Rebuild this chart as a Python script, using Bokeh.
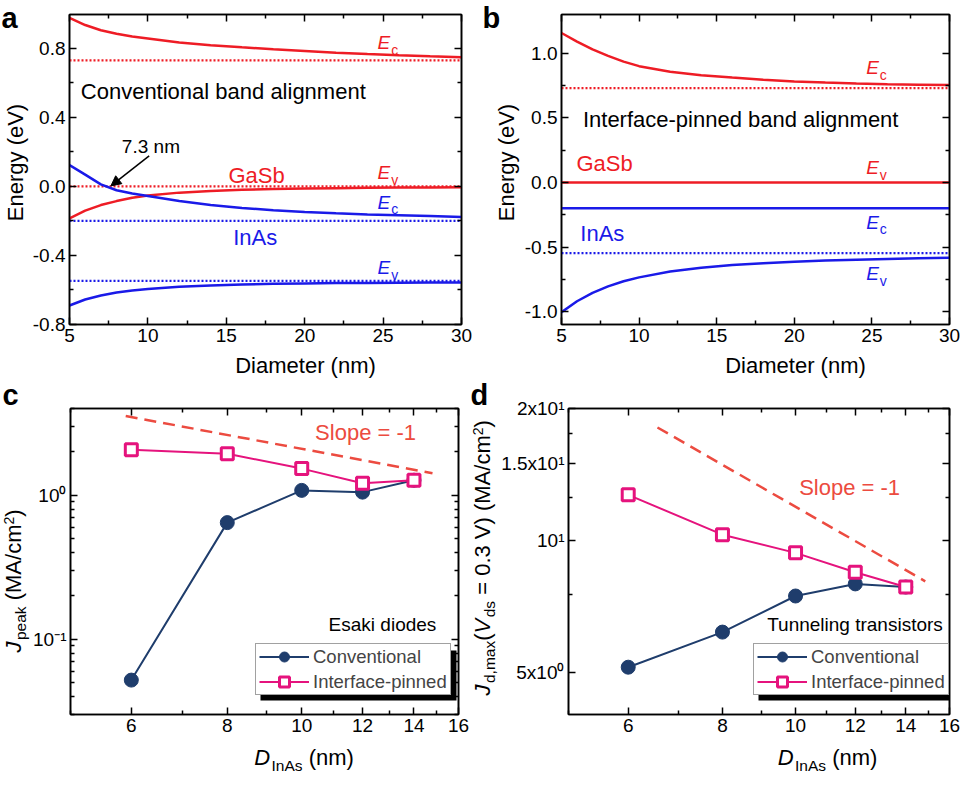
import math
from bokeh.plotting import figure
from bokeh.layouts import column, row
from bokeh.models import (FixedTicker, LinearAxis, LogAxis, Label, Legend, LegendItem,
                          BoxAnnotation, Arrow, NormalHead, PrintfTickFormatter,
                          CustomJSTickFormatter, Range1d)
from bokeh.embed import file_html
from bokeh.resources import INLINE

FONT = "Liberation Sans"
RED = "#ee1c25"
BLUE = "#1a1ae8"
NAVY = "#1f3d6c"
PINK = "#e5137d"
SLOPE = "#ec4b40"

# ---------------- data: panels a/b (band edges vs diameter) ----------------
diam = [5, 6, 7, 8, 9, 10, 12, 14, 16, 18, 20, 22, 24, 26, 28, 30]
# panel a: conventional band alignment
gasb_ec_a = [0.977, 0.935, 0.905, 0.885, 0.868, 0.857, 0.834, 0.818, 0.806, 0.795, 0.785, 0.775, 0.767, 0.760, 0.754, 0.749]
gasb_ev_a = [-0.185, -0.140, -0.108, -0.085, -0.066, -0.053, -0.036, -0.027, -0.020, -0.015, -0.012, -0.010, -0.008, -0.007, -0.006, -0.005]
inas_ec_a = [0.124, 0.068, 0.012, -0.022, -0.041, -0.055, -0.085, -0.108, -0.125, -0.138, -0.148, -0.156, -0.162, -0.167, -0.172, -0.177]
inas_ev_a = [-0.690, -0.655, -0.632, -0.615, -0.603, -0.594, -0.582, -0.574, -0.568, -0.564, -0.562, -0.560, -0.559, -0.558, -0.557, -0.557]
# panel b: interface-pinned band alignment
gasb_ec_b = [1.157, 1.090, 1.030, 0.980, 0.935, 0.900, 0.857, 0.830, 0.812, 0.795, 0.782, 0.773, 0.765, 0.760, 0.757, 0.754]
inas_ev_b = [-1.005, -0.920, -0.855, -0.805, -0.765, -0.735, -0.690, -0.660, -0.640, -0.625, -0.614, -0.605, -0.598, -0.592, -0.588, -0.584]
span = [5, 30]
gasb_ev_b = [0.0, 0.0]
inas_ec_b = [-0.2, -0.2]
# bulk reference levels (dotted)
bulk_gasb_ec = 0.73
bulk_gasb_ev = 0.0
bulk_inas_ec = -0.2
bulk_inas_ev = -0.547

# ---------------- data: panels c/d ----------------
d_inas = [6, 8, 10, 12, 14]
jpeak_conv = [0.052, 0.645, 1.08, 1.05, 1.27]
jpeak_pinned = [2.07, 1.94, 1.53, 1.21, 1.27]
jd_conv = [5.13, 6.17, 7.46, 7.95, 7.82]
jd_pinned = [12.7, 10.3, 9.36, 8.45, 7.82]
slope_c_d = [5.9, 14.8]
slope_c_j = [3.55, 1.42]
slope_d_d = [6.56, 14.86]
slope_d_j = [18.1, 8.06]

# ---------------- helpers ----------------
AW = {'a': .556, 'b': .556, 'c': .5, 'd': .556, 'e': .556, 'f': .278, 'g': .556, 'h': .556,
      'i': .222, 'k': .5, 'l': .222, 'm': .833, 'n': .556, 'o': .556, 'p': .556, 'r': .333,
      's': .5, 't': .278, 'u': .556, 'v': .5, 'x': .5, 'y': .5, 'A': .667, 'D': .722,
      'E': .667, 'I': .278, 'J': .5, 'M': .833, 'V': .667, ' ': .278, '(': .333, ')': .333,
      '/': .278, ',': .278, '.': .278, '=': .584, '-': .333}
TICK_FS = "19px"


def tw(text, size):
    return sum(AW.get(ch, .556) for ch in text) * size


def lab(p, x, y, text, size, color="black", style="normal", units="data",
        align="left", baseline="middle", angle=0, xo=0, yo=0):
    p.add_layout(Label(x=x, y=y, x_units=units, y_units=units, text=text,
                       text_font=FONT, text_font_size=f"{size}px", text_color=color,
                       text_font_style=style, text_align=align, text_baseline=baseline,
                       angle=angle, x_offset=xo, y_offset=yo))


def rich(p, x, y, parts, units="screen", color="black", angle=0, center=False):
    """parts: (text, size, style, shift); shift = offset of the piece's middle line,
    >0 = subscript side, <0 = superscript side. Leading spaces only advance."""
    def adv(t, s, st):
        return tw(t, s) + (1.5 if st == "italic" else 0)
    total = sum(adv(t, s, st) for t, s, st, _ in parts)
    cum = -total / 2 if center else 0.0
    for text, size, style, shift in parts:
        stripped = text.lstrip(" ")
        cum += tw(text[:len(text) - len(stripped)], size)
        if angle == 0:
            lab(p, x, y, stripped, size, color, style, units, xo=cum, yo=-shift)
        else:
            lab(p, x, y, stripped, size, color, style, units, angle=math.pi / 2, xo=shift, yo=cum)
        cum += adv(stripped, size, style)


def e_label(p, x, y, sub, color):
    lab(p, x, y, "E", 19, color, "italic")
    lab(p, x, y, sub, 14, color, xo=tw("E", 19) + 1, yo=-7)


def style_axis(ax, ticks, minor, fmt=None, overrides=None, labels=True):
    ax.ticker = FixedTicker(ticks=ticks, minor_ticks=minor)
    ax.major_tick_in = 7
    ax.major_tick_out = 0
    ax.minor_tick_in = 4
    ax.minor_tick_out = 0
    ax.axis_line_width = 1.6
    ax.major_tick_line_width = 1.5
    ax.minor_tick_line_width = 1.5
    ax.axis_line_color = "black"
    ax.major_tick_line_color = "black"
    ax.minor_tick_line_color = "black"
    ax.major_label_text_font = FONT
    ax.major_label_text_font_size = TICK_FS
    ax.major_label_text_color = "black"
    ax.major_label_standoff = 4
    ax.axis_label = None
    if not labels:
        ax.formatter = CustomJSTickFormatter(code="return ''")
        ax.major_label_text_font_size = "0px"
        ax.major_label_standoff = 0
    elif fmt is not None:
        ax.formatter = fmt
    if overrides:
        ax.major_label_overrides = overrides


def make_fig(w, h, bl, br, bt, bb, xr, yr, xtype="linear", ytype="linear"):
    p = figure(width=w, height=h, x_range=xr, y_range=yr, x_axis_type=xtype,
               y_axis_type=ytype, output_backend="svg", toolbar_location=None,
               min_border_left=bl, min_border_right=br, min_border_top=bt,
               min_border_bottom=bb)
    p.grid.visible = False
    p.outline_line_color = "black"
    p.outline_line_width = 1.5
    p.background_fill_color = "white"
    p.border_fill_color = "white"
    return p


def strip(w, h):
    """blank figure that only carries text (axis titles / panel letters)"""
    s = figure(width=w, height=h, x_range=Range1d(0, 1), y_range=Range1d(0, 1),
               output_backend="svg", toolbar_location=None,
               x_axis_location=None, y_axis_location=None,
               min_border_left=0, min_border_right=0, min_border_top=0, min_border_bottom=0)
    s.grid.visible = False
    s.outline_line_color = None
    s.background_fill_color = "white"
    s.border_fill_color = "white"
    return s


def mirror(p, xticks, xminor, yticks, yminor, log_x=False, log_y=False):
    top = LogAxis() if log_x else LinearAxis()
    right = LogAxis() if log_y else LinearAxis()
    style_axis(top, xticks, xminor, labels=False)
    style_axis(right, yticks, yminor, labels=False)
    p.add_layout(top, "above")
    p.add_layout(right, "right")


# ---------------- panel a ----------------
x_ticks = [5, 10, 15, 20, 25, 30]
x_minor = [7.5, 12.5, 17.5, 22.5, 27.5]
ya_ticks = [-0.8, -0.4, 0.0, 0.4, 0.8]
ya_minor = [-0.6, -0.2, 0.2, 0.6]

pa = make_fig(451, 352, 40, 19, 14, 28, Range1d(5, 30), Range1d(-0.8, 0.996))
style_axis(pa.xaxis[0], x_ticks, x_minor)
style_axis(pa.yaxis[0], ya_ticks, ya_minor, fmt=PrintfTickFormatter(format="%.1f"))
mirror(pa, x_ticks, x_minor, ya_ticks, ya_minor)

for lvl, col in [(bulk_gasb_ec, RED), (bulk_gasb_ev, RED), (bulk_inas_ec, BLUE), (bulk_inas_ev, BLUE)]:
    pa.line(span, [lvl, lvl], line_color=col, line_width=2.2, line_dash="2 2")
pa.line(diam, gasb_ec_a, line_color=RED, line_width=2.5)
pa.line(diam, gasb_ev_a, line_color=RED, line_width=2.5)
pa.line(diam, inas_ec_a, line_color=BLUE, line_width=2.5)
pa.line(diam, inas_ev_a, line_color=BLUE, line_width=2.5)

lab(pa, 5.72, 0.552, "Conventional band alignment", 22)
lab(pa, 8.34, 0.229, "7.3 nm", 19)
pa.add_layout(Arrow(end=NormalHead(size=10, fill_color="black", line_color="black"),
                    x_start=10.08, y_start=0.177, x_end=7.64, y_end=0.003,
                    line_width=1.5, line_color="black"))
lab(pa, 15.14, 0.065, "GaSb", 22, RED)
lab(pa, 15.44, -0.295, "InAs", 22, BLUE)
e_label(pa, 24.64, 0.832, "c", RED)
e_label(pa, 24.64, 0.078, "v", RED)
e_label(pa, 24.64, -0.093, "c", BLUE)
e_label(pa, 24.64, -0.470, "v", BLUE)

sa = strip(29, 378)
lab(sa, 1, 361, "a", 29, style="bold", units="screen")
lab(sa, 15, 216, "Energy (eV)", 22, units="screen", align="center", angle=math.pi / 2)
xa = strip(451, 26)
lab(xa, 40 + 196, 13, "Diameter (nm)", 22, units="screen", align="center")

# ---------------- panel b ----------------
pb = make_fig(439, 352, 40, 11, 14, 28, Range1d(5, 30), Range1d(-1.1, 1.3))
yb_ticks = [-1.0, -0.5, 0.0, 0.5, 1.0]
yb_minor = [-0.75, -0.25, 0.25, 0.75]
style_axis(pb.xaxis[0], x_ticks, x_minor)
style_axis(pb.yaxis[0], yb_ticks, yb_minor, fmt=PrintfTickFormatter(format="%.1f"))
mirror(pb, x_ticks, x_minor, yb_ticks, yb_minor)

pb.line(span, [bulk_gasb_ec, bulk_gasb_ec], line_color=RED, line_width=2.2, line_dash="2 2")
pb.line(span, [bulk_inas_ev, bulk_inas_ev], line_color=BLUE, line_width=2.2, line_dash="2 2")
pb.line(diam, gasb_ec_b, line_color=RED, line_width=2.5)
pb.line(span, gasb_ev_b, line_color=RED, line_width=2.5)
pb.line(span, inas_ec_b, line_color=BLUE, line_width=2.5)
pb.line(diam, inas_ev_b, line_color=BLUE, line_width=2.5)

lab(pb, 6.38, 0.487, "Interface-pinned band alignment", 22)
lab(pb, 5.96, 0.147, "GaSb", 22, RED)
lab(pb, 6.21, -0.393, "InAs", 22, BLUE)
e_label(pb, 24.63, 0.888, "c", RED)
e_label(pb, 24.63, 0.114, "v", RED)
e_label(pb, 24.63, -0.310, "c", BLUE)
e_label(pb, 24.63, -0.706, "v", BLUE)

sb = strip(41, 378)
lab(sb, 2, 361, "b", 29, style="bold", units="screen")
lab(sb, 26, 216, "Energy (eV)", 22, units="screen", align="center", angle=math.pi / 2)
xb = strip(439, 26)
lab(xb, 40 + 194, 13, "Diameter (nm)", 22, units="screen", align="center")

# ---------------- panels c / d ----------------
xd_ticks = [6, 8, 10, 12, 14, 16]
xd_minor = [5, 7, 9, 11, 13, 15]
xd_over = {t: str(t) for t in xd_ticks}


def legend_with_shadow(p, items):
    p.add_layout(BoxAnnotation(left=190, right=386, bottom=14, top=64,
                               left_units="screen", right_units="screen",
                               top_units="screen", bottom_units="screen",
                               fill_color="black", fill_alpha=1, line_color=None))
    lg = Legend(items=items, location=(185, 19), label_text_font=FONT,
                label_text_font_size="18.5px", glyph_width=50, glyph_height=25,
                label_height=25, spacing=0, padding=(3, 0), label_standoff=4, margin=0,
                border_line_color="#444444", border_line_width=1,
                background_fill_color="white", background_fill_alpha=1)
    p.add_layout(lg, "center")


def series(p, yconv, ypin):
    l1 = p.line(d_inas, yconv, line_color=NAVY, line_width=2)
    s1 = p.scatter(d_inas, yconv, marker="circle", size=14, fill_color=NAVY, line_color=NAVY)
    l2 = p.line(d_inas, ypin, line_color=PINK, line_width=2)
    s2 = p.scatter(d_inas, ypin, marker="square", size=12, fill_color="white",
                   line_color=PINK, line_width=3)
    return [LegendItem(label="Conventional", renderers=[l1, s1]),
            LegendItem(label="Interface-pinned", renderers=[l2, s2])]


# panel c
pc = make_fig(439, 366, 39, 11, 30, 30, Range1d(5, 16), Range1d(0.03, 4),
              xtype="log", ytype="log")
yc_ticks = [0.1, 1.0]
yc_minor = [0.03, 0.04, 0.05, 0.06, 0.07, 0.08, 0.09, 0.2, 0.3, 0.4, 0.5, 0.6, 0.7, 0.8, 0.9, 2, 3, 4]
style_axis(pc.xaxis[0], xd_ticks, xd_minor, overrides=xd_over)
style_axis(pc.yaxis[0], yc_ticks, yc_minor, overrides={0.1: "10\u207b\u00b9", 1.0: "10\u2070"})
mirror(pc, xd_ticks, xd_minor, yc_ticks, yc_minor, log_x=True, log_y=True)
pc.line(slope_c_d, slope_c_j, line_color=SLOPE, line_width=2.5, line_dash="12 7")
items_c = series(pc, jpeak_conv, jpeak_pinned)
legend_with_shadow(pc, items_c)
lab(pc, 10.41, 2.71, "Slope = -1", 22, SLOPE)
lab(pc, 10.84, 0.126, "Esaki diodes", 19)

sc = strip(30, 396)
lab(sc, 2, 380, "c", 29, style="bold", units="screen")
rich(sc, 13, 122, [("J", 22, "italic", 0), ("peak", 15.5, "normal", 7),
                   (" (MA/cm", 22, "normal", 0), ("2", 14, "normal", -5), (")", 22, "normal", 0)],
     angle=1)
xc = strip(439, 30)
rich(xc, 39 + 194.5, 17, [("D", 22, "italic", 0), ("InAs", 15.5, "normal", 8),
                          (" (nm)", 22, "normal", 0)], center=True)

# panel d
pd_ = make_fig(462, 366, 67, 11, 30, 30, Range1d(5, 16), Range1d(4, 20),
               xtype="log", ytype="log")
yd_ticks = [5, 10, 15, 20]
yd_minor = [7.5, 12.5, 17.5]
style_axis(pd_.xaxis[0], xd_ticks, xd_minor, overrides=xd_over)
style_axis(pd_.yaxis[0], yd_ticks, yd_minor,
           overrides={5: "5x10\u2070", 10: "10\u00b9", 15: "1.5x10\u00b9", 20: "2x10\u00b9"})
mirror(pd_, xd_ticks, xd_minor, yd_ticks, yd_minor, log_x=True, log_y=True)
pd_.line(slope_d_d, slope_d_j, line_color=SLOPE, line_width=2.5, line_dash="12 7")
items_d = series(pd_, jd_conv, jd_pinned)
legend_with_shadow(pd_, items_d)
lab(pd_, 10.11, 13.2, "Slope = -1", 22, SLOPE)
lab(pd_, 9.17, 6.42, "Tunneling transistors", 19)

sd = strip(29, 396)
lab(sd, 1, 380, "d", 29, style="bold", units="screen")
rich(sd, 13, 79, [("J", 22, "italic", 0), ("d,max", 15.5, "normal", 7), ("(", 22, "normal", 0),
                  ("V", 22, "italic", 0), ("ds", 15.5, "normal", 7),
                  (" = 0.3 V) (MA/cm", 22, "normal", 0), ("2", 14, "normal", -5),
                  (")", 22, "normal", 0)], angle=1)
xd = strip(462, 30)
rich(xd, 67 + 192, 17, [("D", 22, "italic", 0), ("InAs", 15.5, "normal", 8),
                        (" (nm)", 22, "normal", 0)], center=True)

layout = column(
    row(sa, column(pa, xa), sb, column(pb, xb)),
    row(sc, column(pc, xc), sd, column(pd_, xd)),
)
open("out.html", "w").write(file_html(layout, INLINE))
